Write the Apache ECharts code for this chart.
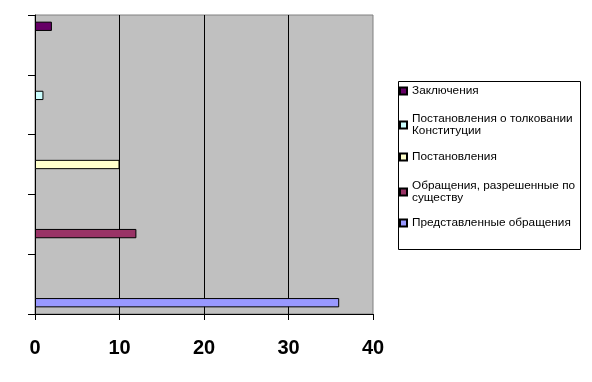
<!DOCTYPE html>
<html>
<head>
<meta charset="utf-8">
<script src="https://cdn.jsdelivr.net/npm/echarts@6/dist/echarts.min.js"></script>
<style>html,body{margin:0;padding:0;background:#fff}#c{width:592px;height:382px}</style>
</head>
<body>
<div id="c"></div>
<script>
const categories = ['Заключения', 'Постановления о толковании Конституции', 'Постановления', 'Обращения, разрешенные по существу', 'Представленные обращения'];
const seriesNames = ['Заключения', 'Постановления о толковании Конституции', 'Постановления', 'Обращения, разрешенные по существу', 'Представленные обращения'];
const legendLabels = ['Заключения', 'Постановления о толковании\nКонституции', 'Постановления', 'Обращения, разрешенные по\nсуществу', 'Представленные обращения'];
const zaklyucheniya = [2, null, null, null, null];
const postTolkovanie = [null, 1, null, null, null];
const postanovleniya = [null, null, 10, null, null];
const obrRazresh = [null, null, null, 12, null];
const predstavlennye = [null, null, null, null, 36];
const xTicks = [0, 10, 20, 30, 40];

const seriesData = [zaklyucheniya, postTolkovanie, postanovleniya, obrRazresh, predstavlennye];
const colors = ['#660066', '#ccffff', '#ffffcc', '#993366', '#9999ff'];
const legendCenters = [91, 125, 157, 192, 223];
const LH = 12;

const chart = echarts.init(document.getElementById('c'), null, {renderer: 'canvas'});
const legends = seriesNames.map((n, i) => {
  const two = legendLabels[i].indexOf('\n') >= 0;
  return {
    show: true,
    data: [n],
    orient: 'vertical',
    left: 399,
    top: two ? legendCenters[i] - 1.5 * LH : legendCenters[i] - LH / 2,
    padding: 0,
    itemWidth: 7,
    itemHeight: 7,
    itemGap: 0,
    icon: 'rect',
    selectedMode: false,
    formatter: () => legendLabels[i],
    textStyle: {
      fontFamily: 'Arial, Liberation Sans, sans-serif',
      fontSize: 11.8,
      color: '#000',
      lineHeight: LH,
      padding: two ? [LH, 0, 0, 0] : 0
    }
  };
});

chart.setOption({
  animation: false,
  grid: {
    left: 35, top: 15, right: 219, bottom: 68,
    show: true, backgroundColor: '#c0c0c0', borderColor: '#808080', borderWidth: 1
  },
  graphic: [{
    type: 'rect', shape: {x: 398.5, y: 81.5, width: 182, height: 168},
    style: {fill: 'none', stroke: '#000', lineWidth: 1}, z: 0
  }],
  legend: legends,
  xAxis: {
    type: 'value', min: xTicks[0], max: xTicks[xTicks.length - 1], interval: 10,
    axisLine: {show: true, lineStyle: {color: '#000', width: 1}},
    axisTick: {show: true, length: 6, lineStyle: {color: '#000'}},
    axisLabel: {fontSize: 20, fontWeight: 'bold', fontFamily: 'Arial, Liberation Sans, sans-serif', color: '#000', margin: 24},
    splitLine: {show: true, showMinLine: false, showMaxLine: false, lineStyle: {color: '#000', width: 1}}
  },
  yAxis: {
    type: 'category', data: categories, inverse: true,
    axisLine: {show: true, lineStyle: {color: '#000', width: 1}},
    axisTick: {show: true, length: 7, lineStyle: {color: '#000'}},
    axisLabel: {show: false},
    splitLine: {show: false}
  },
  series: seriesNames.map((n, i) => ({
    name: n, type: 'bar', data: seriesData[i],
    barWidth: 9.3, barGap: '0%',
    itemStyle: {color: colors[i], borderColor: '#000', borderWidth: 1}
  }))
});
</script>
</body>
</html>
